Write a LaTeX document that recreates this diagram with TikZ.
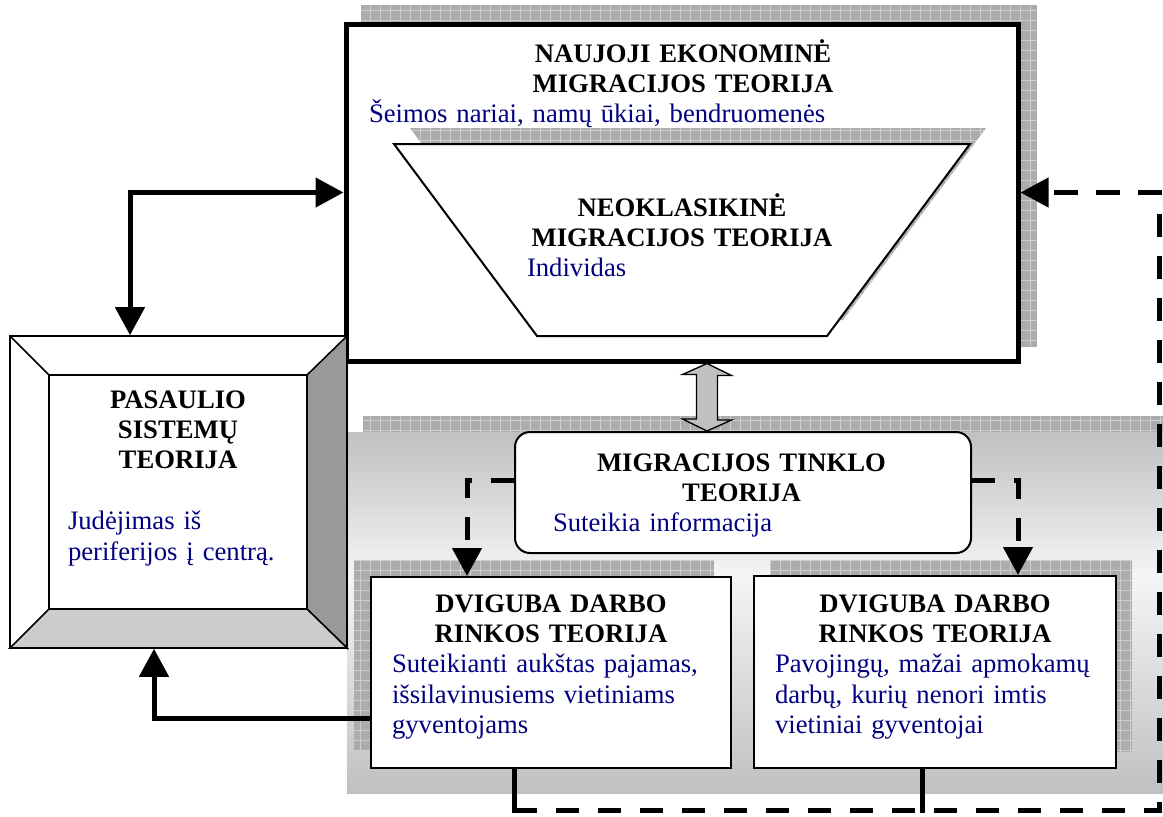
\documentclass[tikz,border=0pt]{standalone}
\usepackage{fontspec}
\setmainfont{Liberation Serif}
\usetikzlibrary{arrows.meta}
\definecolor{navy}{RGB}{0,0,128}
\definecolor{hatchgray}{RGB}{172,172,172}
\definecolor{hatchline}{RGB}{206,206,206}
\definecolor{panelgray}{RGB}{192,192,192}
\definecolor{bevdark}{RGB}{153,153,153}
\definecolor{bevlight}{RGB}{204,204,204}

\begin{document}
\begin{tikzpicture}[x=0.45pt,y=-0.45pt,>={Triangle[length=12.6pt,width=13pt]},
  font=\fontsize{12}{13.7}\selectfont]
\tikzstyle{hatch}=[fill=hatchgray, path picture={\draw[hatchline,line width=0.3pt]
  (path picture bounding box.south west) grid[step=4.5pt] (path picture bounding box.north east);}]
\tikzstyle{box}=[draw=black, fill=white, line width=0.9pt, inner sep=0pt]
\tikzstyle{txt}=[anchor=base, inner sep=0pt, align=left]
\tikzstyle{ln}=[line width=2.25pt]
\tikzstyle{dsh}=[ln, dash pattern=on 10.4pt off 8.5pt]
\useasboundingbox (0,0) rectangle (1163,816);
% pilkas fonas
\fill[hatch] (363,416) rectangle (1180,777);
\shade[top color=panelgray, bottom color=white!96!black] (347,432) rectangle (1163,576);
\shade[top color=white!96!black, bottom color=panelgray] (347,575.5) rectangle (1163,793);
% naujoji ekonomine
\fill[hatch] (361,5) rectangle (1037,347);
\node[box, line width=2.25pt, minimum width=302.4pt, minimum height=151.65pt] (nek) at (682,192.5) {};
\fill[hatch] (410,128) -- (986,128) -- (843,320) -- (553,320) -- cycle;
\filldraw[fill=white, line width=0.9pt] (394,144) -- (970,144) -- (827,336) -- (537,336) -- cycle;
% pasaulio sistemu
\node[box, line width=0.7pt, minimum width=151.65pt, minimum height=140.4pt] (pas) at (178.5,492) {};
\filldraw[fill=bevdark, line width=0.7pt] (347,336) -- (307,375) -- (307,609) -- (347,648) -- cycle;
\filldraw[fill=bevlight, line width=0.7pt] (10,648) -- (49,609) -- (307,609) -- (347,648) -- cycle;
\draw[line width=0.7pt] (10,336) -- (49,375) rectangle (307,609);
% dviguba darbo rinkos
\fill[hatch] (354,560) rectangle (714,751);
\fill[hatch] (770,560) rectangle (1132,752);
\node[box, minimum width=162pt, minimum height=85.95pt] (d1) at (551,672.5) {};
\node[box, minimum width=162.9pt, minimum height=86.4pt] (d2) at (935,672) {};
% tinklo
\node[box, rounded corners=6.75pt, minimum width=205.2pt, minimum height=54.45pt] (net) at (743,492.5) {};
\coordinate (a1) at (707,400);
\filldraw[fill=panelgray, line width=0.6pt] (a1 |- nek.south) -- ++(24.5,12) -- ++(-14,0) -- ++(0,44.5)
  -- ++(14,0) -- (a1 |- net.north) -- ++(-24.5,-12) -- ++(14,0) -- ++(0,-44.5) -- ++(-14,0) -- cycle;
% rodykles
\coordinate (k1) at (130,193);
\coordinate (k2) at (154,718);
\coordinate (k3) at (467,480);
\coordinate (k4) at (1018,480);
\coordinate (k5) at (514,810);
\coordinate (k6) at (922,810);
\coordinate (k7) at (1159,810);
\draw[ln,<->] (pas.north -| k1) -- (k1 |- nek.west) -- (nek.west);
\draw[ln,->] (d1.west |- k2) -- (k2) -- (k2 |- pas.south);
\draw[dsh,->] (net.west |- k3) -- (k3) -- (k3 |- d1.north);
\draw[dsh,->] (net.east |- k4) -- (k4) -- (k4 |- d2.north);
\draw[ln,line cap=rect] (d1.south -| k5) -- (k5);
\draw[ln,line cap=rect] (d2.south -| k6) -- (k6);
\draw[dsh,->] (k5) -- (k7) -- (k7 |- nek.east) -- (nek.east);
% tekstai
\node[txt, text width=282.6pt] (t1) at (683,62) {{\centering\bfseries NAUJOJI EKONOMINĖ\\MIGRACIJOS TEORIJA\par}\textcolor{navy}{Šeimos nariai, namų ūkiai, bendruomenės}};
\node[txt, text width=139.5pt] (t2) at (682,216) {{\centering\bfseries NEOKLASIKINĖ\\MIGRACIJOS TEORIJA\par}\textcolor{navy}{Individas}};
\node[txt, text width=99pt] (t3) at (178,408) {{\centering\bfseries PASAULIO\\SISTEMŲ\\TEORIJA\par}\vspace{\baselineskip}\textcolor{navy}{Judėjimas iš\\periferijos į centrą.}};
\node[txt, text width=169.65pt] (t4) at (741.5,471) {{\centering\bfseries MIGRACIJOS TINKLO\\TEORIJA\par}\textcolor{navy}{Suteikia informacija}};
\node[txt, text width=143.1pt] (t5) at (551,612) {{\centering\bfseries DVIGUBA DARBO\\RINKOS TEORIJA\par}\textcolor{navy}{Suteikianti aukštas pajamas,\\išsilavinusiems vietiniams\\gyventojams}};
\node[txt, text width=144pt] (t6) at (935,612) {{\centering\bfseries DVIGUBA DARBO\\RINKOS TEORIJA\par}\textcolor{navy}{Pavojingų, mažai apmokamų\\darbų, kurių nenori imtis\\vietiniai gyventojai}};
\end{tikzpicture}
\end{document}
